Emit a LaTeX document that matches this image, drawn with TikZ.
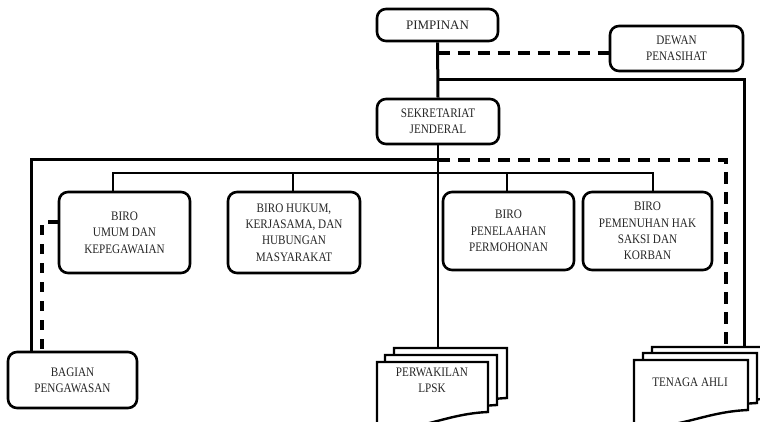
\documentclass[tikz,border=0pt]{standalone}
\usepackage{fontspec}
\setmainfont{Liberation Serif}
\newfontfamily\condfont{Liberation Serif}[FakeStretch=0.86]
\begin{document}
\begin{tikzpicture}[x=1pt,y=-1pt,
  box/.style={draw, line width=2.6pt, rounded corners=9pt, align=center,
    font=\condfont\fontsize{13}{16.4}\selectfont, text=black!85, inner sep=0pt, fill=white},
  thickline/.style={line width=3pt},
  thinline/.style={line width=2pt},
  dashline/.style={line width=3.1pt, dash pattern=on 12pt off 8pt},
  page/.style={draw, line width=2.4pt, fill=white, line join=miter},
  lbl/.style={align=center, font=\condfont\fontsize{13}{16}\selectfont, text=black!85, inner sep=0pt}]
\path[use as bounding box, clip] (0,0) rectangle (760,422);
\fill[white] (0,0) rectangle (760,422);

\newcommand\docpg[4]{\filldraw[page] (#1,#2) -- (#3,#2) -- (#3,#4)
  .. controls ({#3-0.4*(#3-#1)},{#4+2}) and ({#3-0.6*(#3-#1)},{#4+20}) .. (#1,{#4+16}) -- cycle;}

% boxes
\node[box, minimum width=121pt, minimum height=32pt, font=\fontsize{13}{15}\selectfont] (pim) at (437.5,25) {PIMPINAN};
\node[box, minimum width=133pt, minimum height=45pt] (dew) at (676.5,48.5) {DEWAN\\PENASIHAT};
\node[box, minimum width=122pt, minimum height=45pt] (sek) at (438,121.5) {SEKRETARIAT\\JENDERAL};
\node[box, minimum width=131pt, minimum height=81pt] (umum) at (124.5,232.5) {BIRO\\UMUM DAN\\KEPEGAWAIAN};
\node[box, minimum width=132pt, minimum height=81pt] (huk) at (294,232.5) {BIRO HUKUM,\\KERJASAMA, DAN\\HUBUNGAN\\MASYARAKAT};
\node[box, minimum width=131pt, minimum height=78pt] (pen) at (508.5,231) {BIRO\\PENELAAHAN\\PERMOHONAN};
\node[box, minimum width=129pt, minimum height=78pt] (pem) at (647.5,231) {BIRO\\PEMENUHAN HAK\\SAKSI DAN\\KORBAN};
\node[box, minimum width=129pt, minimum height=56pt] (bag) at (72.5,380) {BAGIAN\\PENGAWASAN};

% document stacks
\docpg{394}{348}{507}{398}
\docpg{385}{355}{497}{405}
\docpg{377}{362}{488}{412}
\docpg{652}{347}{775}{398}
\docpg{643}{353}{757}{403}
\docpg{634}{360}{748}{410}
\node[lbl] (perw) at (432,380) {PERWAKILAN\\LPSK};
\node[lbl] (ta) at (690,382) {TENAGA AHLI};
\coordinate (perwtop) at (438,348);
\coordinate (tatop) at (744,347);
\coordinate (tatopd) at (726,347);
\coordinate (j1) at (437.5,80);
\coordinate (j2) at (438,160);
\coordinate (bus) at (0,173);

% connectors
\draw[thickline] (pim.south) -- (sek.north);
\draw[dashline] (pim.south |- 0,53) -- ([yshift=-4.5pt]dew.west);
\draw[thickline] (j1) -| (tatop);
\draw[thickline] (j2) -| ([xshift=-41.5pt]bag.north);
\draw[dashline] (j2) -| (tatopd);
\draw[thinline] (sek.south) -- (perwtop);
\draw[thinline] ([xshift=-11.5pt]umum.north) -- ([xshift=-11.5pt]umum.north |- bus)
  -- ([xshift=5.5pt]pem.north |- bus) -- ([xshift=5.5pt]pem.north);
\draw[thinline] ([xshift=-1pt]huk.north) -- ([xshift=-1pt]huk.north |- bus);
\draw[thinline] ([xshift=-1.5pt]pen.north) -- ([xshift=-1.5pt]pen.north |- bus);
\draw[dashline, dash pattern=on 10pt off 9pt] ([yshift=10.5pt]umum.west) -| ([xshift=-30.5pt]bag.north);
\end{tikzpicture}
\end{document}
